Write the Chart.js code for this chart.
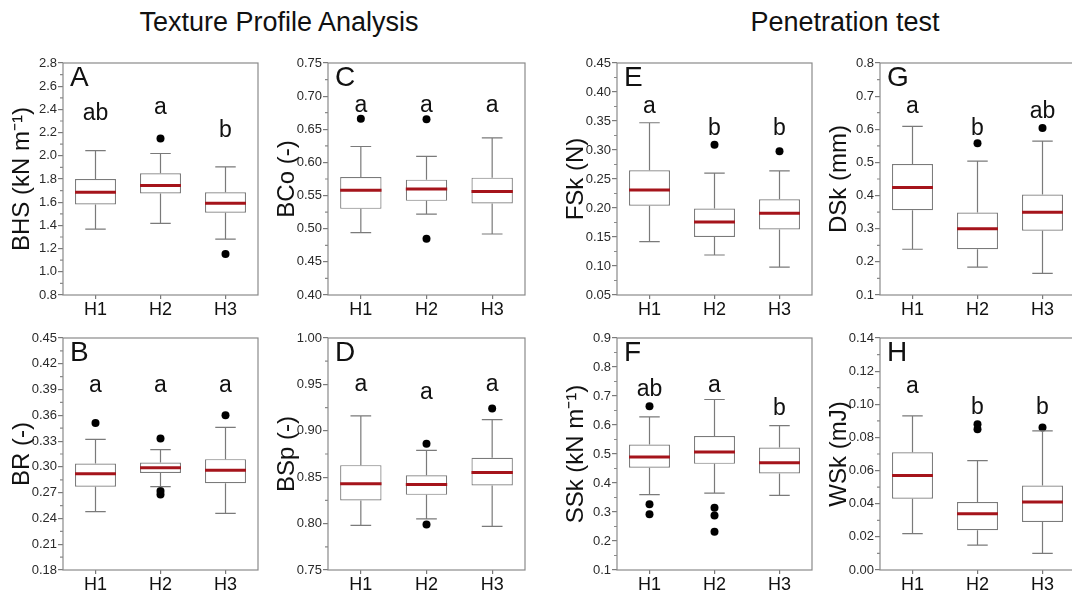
<!DOCTYPE html>
<html>
<head>
<meta charset="utf-8">
<script src="https://cdn.jsdelivr.net/npm/chart.js@4"></script>
<style>
  body { margin: 0; width: 1072px; height: 595px; overflow: hidden; background: #fff; position: relative;
         font-family: "Liberation Sans", Arial, sans-serif; }
  canvas { position: absolute; }
  .head { position: absolute; top: 9px; font-size: 27px; line-height: 27px; color: #111;
          transform: translateX(-50%); white-space: nowrap; }
</style>
</head>
<body>
<div class="head" style="left:279px">Texture Profile Analysis</div>
<div class="head" style="left:845px">Penetration test</div>
<script>
const groups = ['H1', 'H2', 'H3'];

// box stats per group: [lower whisker, Q1, median, Q3, upper whisker]
const bhsBox = [[1.368, 1.58, 1.685, 1.80, 2.045], [1.417, 1.675, 1.745, 1.85, 2.02], [1.282, 1.51, 1.59, 1.685, 1.905]];
const bhsOut = [[], [2.15], [1.153]];
const bhsSig = ['ab', 'a', 'b'];
const bhsTicks = ['0.8', '1.0', '1.2', '1.4', '1.6', '1.8', '2.0', '2.2', '2.4', '2.6', '2.8'];

const brBox = [[0.248, 0.277, 0.292, 0.304, 0.332], [0.277, 0.293, 0.299, 0.305, 0.320], [0.246, 0.281, 0.296, 0.309, 0.346]];
const brOut = [[0.351], [0.333, 0.272, 0.268], [0.360]];
const brSig = ['a', 'a', 'a'];
const brTicks = ['0.18', '0.21', '0.24', '0.27', '0.30', '0.33', '0.36', '0.39', '0.42', '0.45'];

const bcoBox = [[0.494, 0.530, 0.558, 0.578, 0.624], [0.522, 0.542, 0.560, 0.574, 0.609], [0.492, 0.538, 0.556, 0.577, 0.637]];
const bcoOut = [[0.666], [0.665, 0.485], []];
const bcoSig = ['a', 'a', 'a'];
const bcoTicks = ['0.40', '0.45', '0.50', '0.55', '0.60', '0.65', '0.70', '0.75'];

const bspBox = [[0.798, 0.825, 0.843, 0.863, 0.916], [0.805, 0.831, 0.842, 0.852, 0.879], [0.797, 0.841, 0.855, 0.871, 0.912]];
const bspOut = [[], [0.886, 0.799], [0.924]];
const bspSig = ['a', 'a', 'a'];
const bspTicks = ['0.75', '0.80', '0.85', '0.90', '0.95', '1.00'];

const fskBox = [[0.142, 0.204, 0.231, 0.265, 0.347], [0.119, 0.150, 0.176, 0.199, 0.260], [0.098, 0.163, 0.191, 0.215, 0.264]];
const fskOut = [[], [0.309], [0.298]];
const fskSig = ['a', 'b', 'b'];
const fskTicks = ['0.05', '0.10', '0.15', '0.20', '0.25', '0.30', '0.35', '0.40', '0.45'];

const sskBox = [[0.360, 0.453, 0.490, 0.533, 0.628], [0.365, 0.466, 0.507, 0.562, 0.688], [0.357, 0.433, 0.470, 0.522, 0.598]];
const sskOut = [[0.665, 0.327, 0.292], [0.315, 0.288, 0.232], []];
const sskSig = ['ab', 'a', 'b'];
const sskTicks = ['0.1', '0.2', '0.3', '0.4', '0.5', '0.6', '0.7', '0.8', '0.9'];

const dskBox = [[0.238, 0.356, 0.424, 0.495, 0.609], [0.184, 0.238, 0.300, 0.349, 0.504], [0.165, 0.294, 0.350, 0.403, 0.564]];
const dskOut = [[], [0.558], [0.604]];
const dskSig = ['a', 'b', 'ab'];
const dskTicks = ['0.1', '0.2', '0.3', '0.4', '0.5', '0.6', '0.7', '0.8'];

const wskBox = [[0.022, 0.043, 0.057, 0.071, 0.093], [0.015, 0.024, 0.034, 0.041, 0.066], [0.010, 0.029, 0.041, 0.051, 0.084]];
const wskOut = [[], [0.088, 0.085], [0.086]];
const wskSig = ['a', 'b', 'b'];
const wskTicks = ['0.00', '0.02', '0.04', '0.06', '0.08', '0.10', '0.12', '0.14'];

// area = plot rectangle on the page [left, top, right, bottom]; sigY = where the letters sit (data units)
const panels = [
  { tag: 'A', title: 'BHS (kN m\u207B\u00B9)', box: bhsBox, out: bhsOut, sig: bhsSig, ticks: bhsTicks, sigY: [2.367, 2.414, 2.221], area: [63, 62.7, 258, 295] },
  { tag: 'C', title: 'BCo (-)', box: bcoBox, out: bcoOut, sig: bcoSig, ticks: bcoTicks, sigY: [0.686, 0.686, 0.686], area: [328, 62.7, 525, 295] },
  { tag: 'E', title: 'FSk (N)', box: fskBox, out: fskOut, sig: fskSig, ticks: fskTicks, sigY: [0.374, 0.337, 0.337], area: [617, 62.7, 812, 295] },
  { tag: 'G', title: 'DSk (mm)', box: dskBox, out: dskOut, sig: dskSig, ticks: dskTicks, sigY: [0.667, 0.602, 0.652], area: [880, 62.7, 1075, 295] },
  { tag: 'B', title: 'BR (-)', box: brBox, out: brOut, sig: brSig, ticks: brTicks, sigY: [0.394, 0.394, 0.394], area: [63, 338.3, 258, 570] },
  { tag: 'D', title: 'BSp (-)', box: bspBox, out: bspOut, sig: bspSig, ticks: bspTicks, sigY: [0.950, 0.941, 0.950], area: [328, 338.3, 525, 570] },
  { tag: 'F', title: 'SSk (kN m\u207B\u00B9)', box: sskBox, out: sskOut, sig: sskSig, ticks: sskTicks, sigY: [0.721, 0.735, 0.658], area: [617, 338.3, 812, 570] },
  { tag: 'H', title: 'WSk (mJ)', box: wskBox, out: wskOut, sig: wskSig, ticks: wskTicks, sigY: [0.1107, 0.098, 0.098], area: [880, 338.3, 1075, 570] },
];

const FONT = '"Liberation Sans", Arial, sans-serif';
const GRAY = '#7a7a7a';
const AXIS_W = 63, PAD_TOP = 20, PAD_RIGHT = 8, AXIS_H = 30;

Chart.defaults.font.family = FONT;

// whiskers, caps and medians on top of the floating bars
const boxParts = {
  id: 'boxParts',
  afterDatasetsDraw(chart, args, opts) {
    const { ctx, scales: { x, y } } = chart;
    const bars = chart.getDatasetMeta(0).data;
    ctx.save();
    opts.box.forEach((s, i) => {
      const cx = x.getPixelForValue(i);
      const hw = bars[i].width / 2;
      const cap = hw / 2;
      ctx.strokeStyle = GRAY;
      ctx.lineWidth = 1.2;
      ctx.beginPath();
      ctx.moveTo(cx, y.getPixelForValue(s[0])); ctx.lineTo(cx, y.getPixelForValue(s[1]));
      ctx.moveTo(cx, y.getPixelForValue(s[3])); ctx.lineTo(cx, y.getPixelForValue(s[4]));
      [s[0], s[4]].forEach(v => {
        const py = y.getPixelForValue(v);
        ctx.moveTo(cx - cap, py); ctx.lineTo(cx + cap, py);
      });
      ctx.stroke();
      ctx.strokeStyle = '#a5141b';
      ctx.lineWidth = 3;
      const my = y.getPixelForValue(s[2]);
      ctx.beginPath();
      ctx.moveTo(cx - hw, my); ctx.lineTo(cx + hw, my);
      ctx.stroke();
    });
    ctx.restore();
  },
  afterDraw(chart, args, opts) {
    const { ctx, chartArea: a, scales: { x, y } } = chart;
    ctx.save();
    // frame
    ctx.strokeStyle = '#8a8a8a';
    ctx.lineWidth = 1.2;
    ctx.strokeRect(a.left, a.top, a.right - a.left, a.bottom - a.top);
    // minor ticks halfway between labelled ones
    ctx.beginPath();
    for (let i = 0; i < y.ticks.length - 1; i++) {
      const py = y.getPixelForValue((y.ticks[i].value + y.ticks[i + 1].value) / 2);
      ctx.moveTo(a.left - 3, py); ctx.lineTo(a.left, py);
    }
    ctx.stroke();
    // panel tag
    ctx.fillStyle = '#111';
    ctx.textBaseline = 'top';
    ctx.textAlign = 'left';
    ctx.font = '28px ' + FONT;
    ctx.fillText(opts.tag, a.left + 7, a.top + 1);
    // significance letters
    ctx.font = '23px ' + FONT;
    ctx.textAlign = 'center';
    ctx.textBaseline = 'middle';
    opts.sig.forEach((s, i) => {
      ctx.fillText(s, x.getPixelForValue(i), y.getPixelForValue(opts.sigY[i]));
    });
    ctx.restore();
  }
};

panels.forEach(p => {
  const [L, T, R, B] = p.area;
  const cv = document.createElement('canvas');
  cv.width = Math.round(R - L + AXIS_W + PAD_RIGHT);
  cv.height = Math.round(B - T + PAD_TOP + AXIS_H);
  cv.style.left = (L - AXIS_W) + 'px';
  cv.style.top = (T - PAD_TOP) + 'px';
  document.body.appendChild(cv);

  const tickVals = p.ticks.map(Number);
  const outliers = p.out.flatMap((vals, i) => vals.map(v => ({ x: groups[i], y: v })));

  new Chart(cv, {
    type: 'bar',
    data: {
      labels: groups,
      datasets: [{
        data: p.box.map(s => [s[1], s[3]]),
        backgroundColor: '#fff',
        borderColor: GRAY,
        borderWidth: 1.2,
        borderSkipped: false,
        barPercentage: 0.63,
        categoryPercentage: 1,
        order: 1
      }, {
        type: 'line',
        data: outliers,
        showLine: false,
        pointRadius: 4,
        pointBackgroundColor: '#000',
        pointBorderWidth: 0,
        order: 0
      }]
    },
    options: {
      responsive: false,
      animation: false,
      devicePixelRatio: 1,
      layout: { padding: { left: 0, top: PAD_TOP, right: PAD_RIGHT, bottom: 0 } },
      plugins: {
        legend: { display: false },
        tooltip: { enabled: false },
        boxParts: p
      },
      scales: {
        x: {
          type: 'category',
          offset: true,
          border: { display: false },
          grid: { display: true, drawOnChartArea: false, offset: false, tickLength: 4, color: GRAY, lineWidth: 1.2 },
          ticks: { font: { size: 18 }, color: '#111', padding: 0 },
          afterFit(s) { s.height = AXIS_H; }
        },
        y: {
          min: tickVals[0],
          max: tickVals[tickVals.length - 1],
          border: { display: false },
          grid: { drawOnChartArea: false, tickLength: 5, color: GRAY, lineWidth: 1.2 },
          ticks: { font: { size: 13 }, color: '#2a2a2a', padding: 1, autoSkip: false,
                   callback: (v, i) => p.ticks[i] },
          afterBuildTicks(s) { s.ticks = tickVals.map(v => ({ value: v })); },
          afterFit(s) { s.width = AXIS_W; },
          title: { display: true, text: p.title, font: { size: 24 }, color: '#111', padding: { top: 8, bottom: 0 } }
        }
      }
    },
    plugins: [boxParts]
  });
});
</script>
</body>
</html>
